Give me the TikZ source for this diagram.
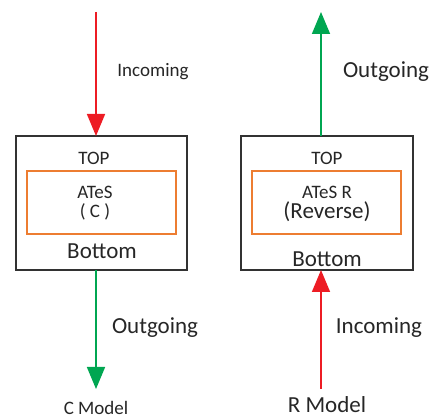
\documentclass[tikz,border=0pt]{standalone}
\usepackage{fontspec}
\setmainfont{Carlito}
\usetikzlibrary{arrows.meta}
\definecolor{boxgray}{RGB}{50,50,50}
\definecolor{orng}{RGB}{237,125,49}
\definecolor{grn}{RGB}{0,166,81}
\definecolor{rd}{RGB}{237,28,36}
\tikzset{
  outerbox/.style={draw=boxgray,line width=1.5pt},
  innerbox/.style={draw=orng,line width=1.5pt},
  lbl/.style={inner sep=0pt,text=black!85},
  fsA/.style={font=\fontsize{19}{21}\selectfont},
  fsB/.style={font=\fontsize{23}{25}\selectfont},
  redarr/.style={draw=rd,line width=1.6pt,-{Triangle[width=18pt,length=22pt]}},
  grnarr/.style={draw=grn,line width=1.6pt,-{Triangle[width=18pt,length=22pt]}},
}
\begin{document}
\begin{tikzpicture}[x=1pt,y=-1pt]
\useasboundingbox (0,0) rectangle (439,419);
% left
\node[outerbox,minimum width=171pt,minimum height=134pt,inner sep=0pt] (LB) at (101.5,203) {};
\node[innerbox,minimum width=149pt,minimum height=63pt,inner sep=0pt] (LI) at (101.5,202.5) {};
\coordinate (Ltop) at (96,12);
\coordinate (Lin) at (96,136);
\coordinate (Lout) at (96,270);
\coordinate (Lend) at (96,389);
\draw[redarr] (Ltop) -- (Lin);
\draw[grnarr] (Lout) -- (Lend);
\node[lbl,fsA] (linc) at (153,72) {Incoming};
\node[lbl,fsA] (ltop) at (94,158) {TOP};
\node[lbl,fsA] (lates) at (95,192) {ATeS};
\node[lbl,fsA] (lc) at (95,212) {( C )};
\node[lbl,fsB] (lbot) at (102,251) {Bottom};
\node[lbl,fsB] (lout) at (155,328) {Outgoing};
\node[lbl,fsA] (lmod) at (96,408) {C Model};
% right
\node[outerbox,minimum width=172pt,minimum height=134pt,inner sep=0pt] (RB) at (327,203) {};
\node[innerbox,minimum width=149pt,minimum height=63pt,inner sep=0pt] (RI) at (326.5,202.5) {};
\coordinate (Rtop) at (321,12);
\coordinate (Rin) at (321,136);
\coordinate (Rbot) at (321,270);
\coordinate (Rstart) at (321,389);
\draw[grnarr] (Rin) -- (Rtop);
\draw[redarr] (Rstart) -- (Rbot);
\node[lbl,fsB] (rout) at (386,72) {Outgoing};
\node[lbl,fsA] (rtop) at (327,158) {TOP};
\node[lbl,fsA] (rates) at (327,192) {ATeS R};
\node[lbl,fsB] (rrev) at (327,212) {(Reverse)};
\node[lbl,fsB] (rbot) at (327,259) {Bottom};
\node[lbl,fsB] (rinc) at (379,328) {Incoming};
\node[lbl,fsB] (rmod) at (327,405) {R Model};
\end{tikzpicture}
\end{document}
